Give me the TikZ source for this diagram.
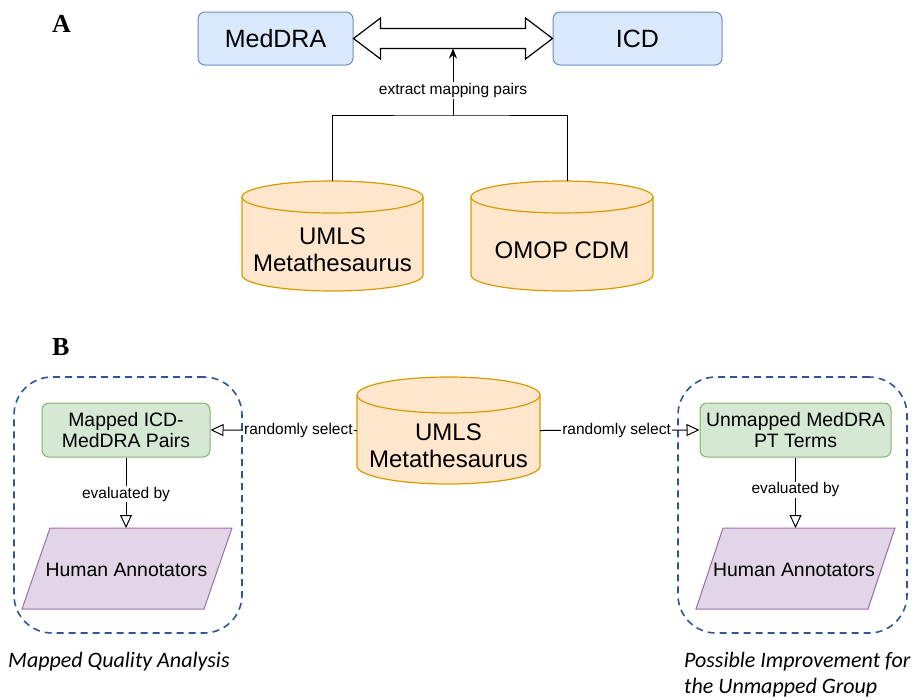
\documentclass[tikz,border=0pt]{standalone}
\usepackage{fontspec}
\setmainfont{Liberation Sans}
\newfontfamily\serifb{Liberation Serif}
\newfontfamily\capf{Carlito}
\usetikzlibrary{calc,arrows.meta}
\definecolor{bluefill}{HTML}{DAE8FC}
\definecolor{bluedraw}{HTML}{6C8EBF}
\definecolor{orfill}{HTML}{FFE6CC}
\definecolor{ordraw}{HTML}{D79B00}
\definecolor{grfill}{HTML}{D5E8D4}
\definecolor{grdraw}{HTML}{82B366}
\definecolor{pufill}{HTML}{E1D5E7}
\definecolor{pudraw}{HTML}{9673A6}
\definecolor{dashblue}{HTML}{2F5597}
\newcommand\dbcyl[3]{% name, half width, ry
  \filldraw[cylline] ($(#1.north west)+(0,#3)$) -- ($(#1.south west)+(0,-#3)$)
    arc[start angle=180,end angle=360,x radius=#2pt,y radius=#3pt]
    -- ($(#1.north east)+(0,#3)$)
    arc[start angle=0,end angle=180,x radius=#2pt,y radius=#3pt] -- cycle;
  \draw[cylline,fill=none] ($(#1.north west)+(0,#3)$)
    arc[start angle=180,end angle=360,x radius=#2pt,y radius=#3pt];
}
\newcommand\parall[2]{% name, slant
  \filldraw[parline] ($(#1.north west)+(#2,0)$) -- (#1.north east)
    -- ($(#1.south east)+(-#2,0)$) -- (#1.south west) -- cycle;
}
\begin{document}
\begin{tikzpicture}[x=1pt,y=-1pt,
  big/.style={font=\fontsize{24}{27}\selectfont, align=center},
  mid/.style={font=\fontsize{19.4}{21}\selectfont, align=center},
  small/.style={font=\fontsize{15.5}{17}\selectfont},
  bluebox/.style={draw=bluedraw, fill=bluefill, line width=1pt, rounded corners=7pt,
    minimum height=53pt, inner sep=0pt, font=\fontsize{25}{27}\selectfont},
  greenbox/.style={draw=grdraw, fill=grfill, line width=1pt, rounded corners=7pt,
    minimum height=54pt, inner sep=0pt, mid},
  ghost/.style={inner sep=0pt, outer sep=0pt},
  cylline/.style={draw=ordraw, fill=orfill, line width=1.2pt},
  parline/.style={draw=pudraw, fill=pufill, line width=1pt},
  dashbox/.style={draw=dashblue, dash pattern=on 7pt off 5pt, line width=1.6pt,
    rounded corners=38pt, inner sep=0pt},
  conn/.style={draw=black, line width=1pt},
  openarr/.style={conn, -{Triangle[open, length=13pt, width=12pt]}},
  lbl/.style={small, fill=white, inner sep=1pt},
  panel/.style={font=\serifb\bfseries\fontsize{26}{28}\selectfont, anchor=base west, inner sep=0pt},
  caption/.style={font=\capf\itshape\fontsize{22}{24}\selectfont, anchor=base west, inner sep=0pt}
]
\useasboundingbox (0,0) rectangle (915,697);

% ---------- Panel A ----------
\node[panel] (la) at (52,32) {A};
\node[bluebox, minimum width=155pt] (med) at (275.5,38.5) {MedDRA};
\node[bluebox, minimum width=169pt] (icd) at (637.5,38.5) {ICD};

\filldraw[draw=black, fill=white, line width=1.2pt]
  (med.east) -- ($(med.east)+(27,-20.5)$) -- ($(med.east)+(27,-10)$)
  -- ($(icd.west)+(-27,-10)$) -- ($(icd.west)+(-27,-20.5)$) -- (icd.west)
  -- ($(icd.west)+(-27,20.5)$) -- ($(icd.west)+(-27,10)$)
  -- ($(med.east)+(27,10)$) -- ($(med.east)+(27,20.5)$) -- cycle;

\node[ghost, minimum width=181pt, minimum height=110pt] (umlsA) at (332.5,236) {};
\node[ghost, minimum width=182pt, minimum height=110pt] (omopA) at (562,236) {};
\dbcyl{umlsA}{90.5}{16}
\dbcyl{omopA}{91}{16}
\node[big] (umlsAt) at (332.5,250) {UMLS\\Metathesaurus};
\node[big] (omopAt) at (562,250) {OMOP CDM};

\coordinate (brk) at (453,115);
\coordinate (arrtip) at (453,48.5);
\coordinate (omtop) at ($(omopA.north)+(5,0)$);
\draw[conn] (umlsA.north) |- (brk) -| (omtop);
\draw[conn, -{Stealth[length=10pt, width=8pt]}] (brk) --
  node[lbl, pos=0.37] (ext) {extract mapping pairs} (arrtip);

% ---------- Panel B ----------
\node[panel] (lb) at (52,355) {B};

\node[dashbox, minimum width=228pt, minimum height=256pt] (grpL) at (128,505) {};
\node[dashbox, minimum width=229pt, minimum height=256pt] (grpR) at (792.5,505) {};

\node[ghost, minimum width=183pt, minimum height=107pt] (umlsB) at (448.5,430.5) {};
\dbcyl{umlsB}{91.5}{18}
\node[big] (umlsBt) at (448.5,446) {UMLS\\Metathesaurus};

\node[greenbox, minimum width=168pt] (mapped) at (126,430) {Mapped ICD-\\MedDRA Pairs};
\node[greenbox, minimum width=191pt] (unmapped) at (795.5,430) {Unmapped MedDRA\\PT Terms};

\node[ghost, minimum width=210pt, minimum height=81pt] (haL) at (127,568.5) {};
\parall{haL}{28}
\node[mid] (haLt) at (126.5,570) {Human Annotators};
\node[ghost, minimum width=199pt, minimum height=81pt] (haR) at (795.5,568.5) {};
\parall{haR}{27}
\node[mid] (haRt) at (794,570) {Human Annotators};

\draw[openarr] (umlsB.west) -- node[lbl, pos=0.4] (rsL) {randomly select} (mapped.east);
\draw[openarr] (umlsB.east) -- node[lbl, pos=0.48] (rsR) {randomly select} (unmapped.west);

\draw[openarr] (mapped.south) -- node[lbl, pos=0.52] (evL) {evaluated by} (mapped.south |- haL.north);
\draw[openarr] (unmapped.south) -- node[lbl, pos=0.46] (evR) {evaluated by} (haR.north);

\node[caption] (capL) at (8,667) {Mapped Quality Analysis};
\node[caption] (capR1) at (684,667) {Possible Improvement for};
\node[caption] (capR2) at (684,693) {the Unmapped Group};
\end{tikzpicture}
\end{document}
